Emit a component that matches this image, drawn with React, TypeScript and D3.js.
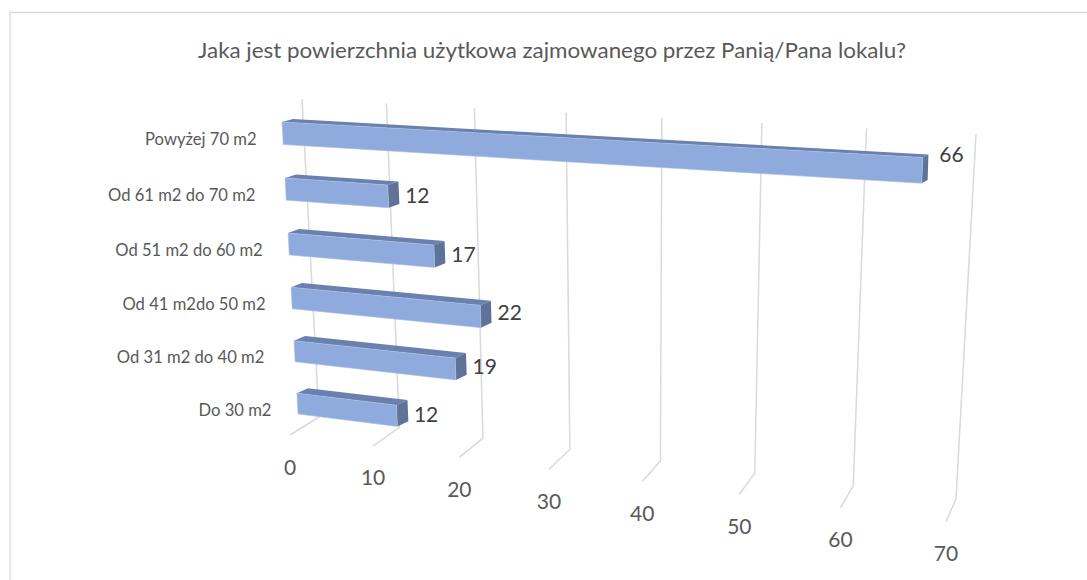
import * as d3 from 'd3';

const categories = ['Powyżej 70 m2', 'Od 61 m2 do 70 m2 ', 'Od 51 m2 do 60 m2', 'Od 41 m2do 50 m2', 'Od 31 m2 do 40 m2 ', 'Do 30 m2'];
const values = [66, 12, 17, 22, 19, 12];
const ticks = [0, 10, 20, 30, 40, 50, 60, 70];
const title = 'Jaka jest powierzchnia użytkowa zajmowanego przez Panią/Pana lokalu?';

type P = [number, number];

// maps the unit square onto a quad (tl, tr, br, bl), which gives the 3D perspective look
function quadMap(q: P[]) {
  const [[x0, y0], [x1, y1], [x2, y2], [x3, y3]] = q;
  const dx1 = x1 - x2, dx2 = x3 - x2, sx = x0 - x1 + x2 - x3;
  const dy1 = y1 - y2, dy2 = y3 - y2, sy = y0 - y1 + y2 - y3;
  const den = dx1 * dy2 - dx2 * dy1;
  const g = (sx * dy2 - dx2 * sy) / den;
  const h = (dx1 * sy - sx * dy1) / den;
  const a = x1 - x0 + g * x1, b = x3 - x0 + h * x3;
  const d = y1 - y0 + g * y1, e = y3 - y0 + h * y3;
  return (u: number, v: number): P => {
    const w = g * u + h * v + 1;
    return [(a * u + b * v + x0) / w, (d * u + e * v + y0) / w];
  };
}

const wall = quadMap([[302, 99], [976, 134], [956, 499], [319, 417]]);
const barFront = quadMap([[282, 122], [968, 160], [953, 496], [298, 414]]);
const barBack = quadMap([[293, 119], [973, 157], [961, 489], [309, 409]]);

const x = d3.scaleLinear().domain([0, 70]).range([0, 1]);
const y = d3.scaleBand<string>().domain(categories).range([0, 1]).paddingInner(0.6);
const footDx = d3.scaleLinear().domain([0, 70]).range([-29, -10]);
const footDy = d3.scaleLinear().domain([0, 70]).range([18, 22.5]);
const line = d3.line();

const grid = '#D9D9D9';
const labelFont = 'Lato, sans-serif';

export default function App() {
  return (
    <svg width={1087} height={580} style={{ position: 'absolute', left: 0, top: 0, background: '#fff' }}>
      <path d="M10 580V12.5H1087" fill="none" stroke={grid} strokeWidth={1.3} />
      <text x={552} y={58} textAnchor="middle" fontFamily={labelFont} fontSize={22} textLength={708} lengthAdjust="spacingAndGlyphs" fill="#595959">{title}</text>

      {ticks.map(t => {
        const u = x(t);
        const corner = wall(u, 1);
        const foot: P = [corner[0] + footDx(t), corner[1] + footDy(t)];
        return (
          <g key={t}>
            <path d={line([wall(u, 0), corner, foot]) as string} fill="none" stroke={grid} strokeWidth={1.5} />
            <text x={foot[0]} y={foot[1] + 39.5} textAnchor="middle" fontFamily={labelFont} fontSize={21} fill="#595959">{t}</text>
          </g>
        );
      })}

      {categories.map((c, i) => {
        const t0 = y(c) as number;
        const t1 = t0 + y.bandwidth();
        const u = x(values[i]);
        const mid = barFront(u, (t0 + t1) / 2);
        const left = barFront(0, (t0 + t1) / 2);
        return (
          <g key={c}>
            <path d={line([barFront(0, t0), barBack(0, t0), barBack(u, t0), barFront(u, t0)]) + 'Z'} fill="#6A80AE" />
            <path d={line([barFront(u, t0), barBack(u, t0), barBack(u, t1), barFront(u, t1)]) + 'Z'} fill="#5F7399" />
            <path d={line([barFront(0, t0), barFront(u, t0), barFront(u, t1), barFront(0, t1)]) + 'Z'} fill="#8FAADC" stroke="#A9C0E8" strokeWidth={0.6} />
            <text x={left[0] - 26} y={left[1] + 12} textAnchor="end" fontFamily={labelFont} fontSize={16.6} fill="#595959" style={{ whiteSpace: 'pre' }}>{c}</text>
            <text x={mid[0] + 17} y={mid[1] - 0.28 * values[i] + 10} fontFamily={labelFont} fontSize={21} fill="#404040">{values[i]}</text>
          </g>
        );
      })}
    </svg>
  );
}
